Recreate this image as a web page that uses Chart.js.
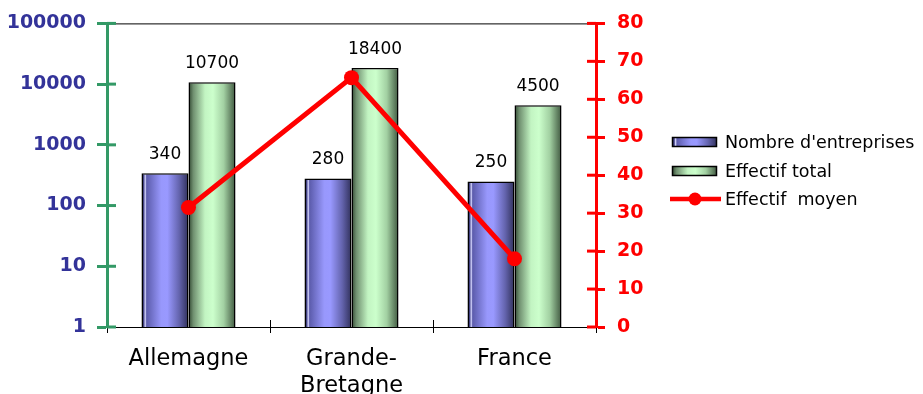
<!DOCTYPE html>
<html>
<head>
<meta charset="utf-8">
<script src="https://cdn.jsdelivr.net/npm/chart.js@4/dist/chart.umd.min.js"></script>
<style>
  html, body { margin: 0; padding: 0; background: #ffffff; }
  #c { display: block; }
</style>
</head>
<body>
<canvas id="c" width="923" height="394"></canvas>
<script>
// Data
const categories = ['Allemagne', ['Grande-', 'Bretagne'], 'France'];
const nombreEntreprises = [340, 280, 250];
const effectifTotal = [10700, 18400, 4500];
const effectifMoyen = [31.5, 65.7, 18.0];
const leftTicks = [1, 10, 100, 1000, 10000, 100000];
const rightTicks = [0, 10, 20, 30, 40, 50, 60, 70, 80];
const seriesNames = ["Nombre d'entreprises", 'Effectif total', 'Effectif  moyen'];

const FONT = "'DejaVu Sans', 'Liberation Sans', Arial, sans-serif";
const CAT_PCT = 0.577;

// Cylinder-like shading for the bars
const blueStops = [
  [0.00, '#262650'], [0.05, '#45458a'], [0.08, '#d8d8ff'], [0.11, '#5c5cac'],
  [0.42, '#9898fc'], [0.55, '#9999ff'], [0.80, '#6464ae'], [1.00, '#30305a']
];
const greenStops = [
  [0.00, '#2e442e'], [0.10, '#6f8f6f'], [0.35, '#c2f4c2'], [0.52, '#ccffcc'],
  [0.75, '#a2d0a2'], [1.00, '#3f573f']
];

function makeGradient(c2d, x0, x1, stops) {
  const g = c2d.createLinearGradient(x0, 0, x1, 0);
  stops.forEach(s => g.addColorStop(s[0], s[1]));
  return g;
}

function barFill(stops, fallback) {
  return (ctx) => {
    const chart = ctx.chart;
    const area = chart.chartArea;
    if (!area || ctx.dataIndex === undefined) return fallback;
    const center = chart.scales.x.getPixelForValue(ctx.dataIndex);
    const catW = (area.right - area.left) / categories.length;
    const w = catW * CAT_PCT / 2;
    const left = ctx.datasetIndex === 0 ? center - w : center;
    return makeGradient(chart.ctx, left, left + w, stops);
  };
}

// Axis decorations: inner tick stubs and top frame line
const axisDecor = {
  id: 'axisDecor',
  beforeDatasetsDraw(chart) {
    const { ctx, chartArea: a, scales } = chart;
    ctx.save();
    // top frame
    ctx.strokeStyle = '#000000';
    ctx.lineWidth = 1;
    ctx.beginPath();
    ctx.moveTo(a.left, a.top + 0.5);
    ctx.lineTo(a.right, a.top + 0.5);
    ctx.stroke();
    // left axis inner ticks
    ctx.strokeStyle = '#339966';
    ctx.lineWidth = 3;
    leftTicks.forEach(v => {
      const y = scales.y.getPixelForValue(v);
      ctx.beginPath();
      ctx.moveTo(a.left, y);
      ctx.lineTo(a.left + 9, y);
      ctx.stroke();
    });
    // right axis inner ticks
    ctx.strokeStyle = '#ff0000';
    rightTicks.forEach(v => {
      const y = scales.y1.getPixelForValue(v);
      ctx.beginPath();
      ctx.moveTo(a.right - 9, y);
      ctx.lineTo(a.right, y);
      ctx.stroke();
    });
    // category boundary stubs above the x axis
    ctx.strokeStyle = '#000000';
    ctx.lineWidth = 1;
    const catW = (a.right - a.left) / categories.length;
    for (let i = 1; i < categories.length; i++) {
      const x = Math.round(a.left + catW * i) + 0.5;
      ctx.beginPath();
      ctx.moveTo(x, a.bottom - 7);
      ctx.lineTo(x, a.bottom);
      ctx.stroke();
    }
    ctx.restore();
  }
};

// Value labels above the bars
const valueLabels = {
  id: 'valueLabels',
  afterDatasetsDraw(chart) {
    const { ctx } = chart;
    ctx.save();
    ctx.font = '17px ' + FONT;
    ctx.fillStyle = '#000000';
    ctx.textAlign = 'center';
    ctx.textBaseline = 'alphabetic';
    [0, 1].forEach(di => {
      const meta = chart.getDatasetMeta(di);
      const vals = chart.data.datasets[di].data;
      meta.data.forEach((el, i) => {
        ctx.fillText(String(vals[i]), el.x, el.y - 14);
      });
    });
    ctx.restore();
  }
};

// Legend on the right
const sideLegend = {
  id: 'sideLegend',
  afterDraw(chart) {
    const { ctx } = chart;
    const x0 = 672, boxW = 45, boxH = 10, textX = 725;
    const rows = [142, 171, 199];
    ctx.save();
    ctx.font = '17.5px ' + FONT;
    ctx.textAlign = 'left';
    ctx.textBaseline = 'middle';
    [blueStops, greenStops].forEach((stops, i) => {
      const y = rows[i] - boxH / 2;
      ctx.fillStyle = makeGradient(ctx, x0, x0 + boxW, stops);
      ctx.fillRect(x0, y, boxW, boxH);
      ctx.strokeStyle = '#000000';
      ctx.lineWidth = 1.5;
      ctx.strokeRect(x0 + 0.5, y + 0.5, boxW - 1, boxH - 1);
    });
    // line marker
    ctx.strokeStyle = '#ff0000';
    ctx.lineWidth = 4.5;
    ctx.beginPath();
    ctx.moveTo(670, rows[2]);
    ctx.lineTo(721, rows[2]);
    ctx.stroke();
    ctx.fillStyle = '#ff0000';
    ctx.beginPath();
    ctx.arc(695, rows[2], 6.5, 0, Math.PI * 2);
    ctx.fill();
    ctx.fillStyle = '#000000';
    seriesNames.forEach((t, i) => ctx.fillText(t, textX, rows[i] + 1));
    ctx.restore();
  }
};

new Chart(document.getElementById('c'), {
  data: {
    labels: categories,
    datasets: [
      {
        type: 'bar',
        label: seriesNames[0],
        data: nombreEntreprises,
        yAxisID: 'y',
        backgroundColor: barFill(blueStops, '#9999ff'),
        borderColor: '#000000',
        borderWidth: 1.5,
        borderSkipped: 'bottom',
        categoryPercentage: CAT_PCT,
        barPercentage: 1,
        order: 2
      },
      {
        type: 'bar',
        label: seriesNames[1],
        data: effectifTotal,
        yAxisID: 'y',
        backgroundColor: barFill(greenStops, '#ccffcc'),
        borderColor: '#000000',
        borderWidth: 1.5,
        borderSkipped: 'bottom',
        categoryPercentage: CAT_PCT,
        barPercentage: 1,
        order: 2
      },
      {
        type: 'line',
        label: seriesNames[2],
        data: effectifMoyen,
        yAxisID: 'y1',
        borderColor: '#ff0000',
        borderWidth: 5,
        pointRadius: 7.5,
        pointBackgroundColor: '#ff0000',
        pointBorderWidth: 0,
        tension: 0,
        order: 0
      }
    ]
  },
  options: {
    responsive: false,
    animation: false,
    devicePixelRatio: 1,
    layout: { padding: { top: 21, right: 0, bottom: 0, left: 0 } },
    plugins: { legend: { display: false }, tooltip: { enabled: false } },
    scales: {
      x: {
        type: 'category',
        offset: true,
        grid: {
          display: true, offset: true, drawOnChartArea: false,
          drawTicks: true, tickLength: 6, tickColor: '#000000', tickWidth: 1
        },
        border: { display: true, color: '#000000', width: 1 },
        ticks: {
          color: '#000000', font: { family: FONT, size: 22.5, lineHeight: 1.2 },
          padding: 13, maxRotation: 0, autoSkip: false
        },
        afterFit: s => { s.height = 67; }
      },
      y: {
        type: 'logarithmic',
        position: 'left',
        min: 1,
        max: 100000,
        afterBuildTicks: s => { s.ticks = leftTicks.map(v => ({ value: v })); },
        grid: {
          display: true, drawOnChartArea: false, drawTicks: true,
          tickLength: 10, tickColor: '#339966', tickWidth: 3
        },
        border: { display: true, color: '#339966', width: 3 },
        ticks: {
          color: '#333399', font: { family: FONT, size: 19, weight: 'bold' },
          padding: 11, callback: v => String(v)
        },
        afterFit: s => { s.width = 107; }
      },
      y1: {
        type: 'linear',
        position: 'right',
        min: 0,
        max: 80,
        afterBuildTicks: s => { s.ticks = rightTicks.map(v => ({ value: v })); },
        grid: {
          display: true, drawOnChartArea: false, drawTicks: true,
          tickLength: 9, tickColor: '#ff0000', tickWidth: 3
        },
        border: { display: true, color: '#ff0000', width: 3 },
        ticks: {
          color: '#ff0000', font: { family: FONT, size: 19, weight: 'bold' },
          padding: 12, callback: v => String(v)
        },
        afterFit: s => { s.width = 327; }
      }
    }
  },
  plugins: [axisDecor, valueLabels, sideLegend]
});
</script>
</body>
</html>
